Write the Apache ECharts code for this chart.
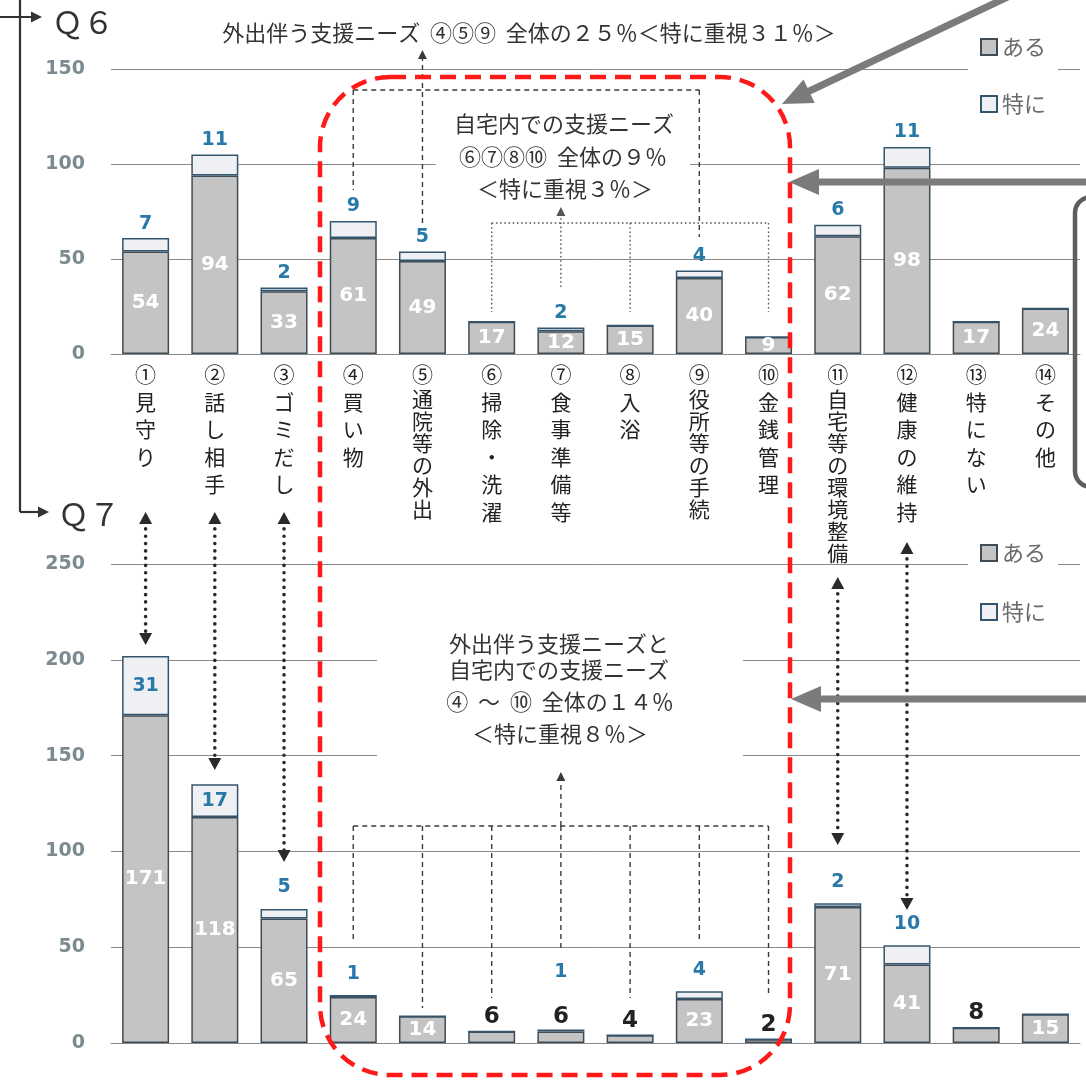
<!DOCTYPE html>
<html>
<head>
<meta charset="utf-8">
<script src="https://cdn.jsdelivr.net/npm/echarts@6/dist/echarts.min.js"></script>
<style>
html,body{margin:0;padding:0;background:#fff}
#chart{width:1086px;height:1081px}
</style>
</head>
<body>
<div id="chart"></div>
<script>
// Support needs by item: Q6 (top) and Q7 (bottom)
const categories = ['①見守り', '②話し相手', '③ゴミだし', '④買い物', '⑤通院等の外出', '⑥掃除・洗濯',
  '⑦食事準備等', '⑧入浴', '⑨役所等の手続', '⑩金銭管理', '⑪自宅等の環境整備', '⑫健康の維持', '⑬特にない', '⑭その他'];
const q6Aru    = [54, 94, 33, 61, 49, 17, 12, 15, 40, 9, 62, 98, 17, 24];
const q6Tokuni = [7, 11, 2, 9, 5, 0, 2, 0, 4, 0, 6, 11, 0, 0];
const q7Aru    = [171, 118, 65, 24, 14, 6, 6, 4, 23, 2, 71, 41, 8, 15];
const q7Tokuni = [31, 17, 5, 1, 0, 0, 1, 0, 4, 0, 2, 10, 0, 0];
const q6Ticks  = [0, 50, 100, 150];
const q7Ticks  = [0, 50, 100, 150, 200, 250];
const seriesNames = ['ある', '特に'];

const JP = '"Noto Sans CJK JP", "Noto Sans CJK SC", sans-serif';
const NUM = '"DejaVu Sans", Verdana, sans-serif';
const GRID_GRAY = '#8a8a8a';
const SMALL = 9;           // bars shorter than this get their value written above
const BAR_W = 47;

// vertical category label: circled number, then one character per line
function catLabel(s) {
  const chars = Array.from(s);
  const body = chars.slice(1);
  const key = body.length > 5 ? 'c' : 'n';
  return ['{h|' + chars[0] + '}'].concat(body.map(c => '{' + key + '|' + c + '}')).join('\n');
}

function yAxisOf(ticks, gridIndex) {
  return {
    type: 'value', gridIndex,
    min: ticks[0], max: ticks[ticks.length - 1], interval: ticks[1] - ticks[0],
    axisLine: { show: false }, axisTick: { show: false },
    splitLine: { lineStyle: { color: GRID_GRAY, width: 1 } },
    axisLabel: { margin: 26, color: '#7b8b90', fontFamily: NUM, fontWeight: 'bold', fontSize: 19 }
  };
}

function xAxisOf(gridIndex, withLabels) {
  return {
    type: 'category', gridIndex, data: categories,
    axisLine: { show: true, lineStyle: { color: GRID_GRAY, width: 1 } },
    axisTick: { show: false },
    axisLabel: withLabels ? {
      show: true, interval: 0, margin: 7, verticalAlign: 'top',
      formatter: catLabel,
      rich: {
        h: { fontFamily: JP, fontSize: 21, color: '#222', lineHeight: 27 },
        n: { fontFamily: JP, fontSize: 21, color: '#222', lineHeight: 27.5 },
        c: { fontFamily: JP, fontSize: 21, color: '#222', lineHeight: 22 }
      }
    } : { show: false }
  };
}

function aruSeries(values, idx, stack) {
  return {
    name: seriesNames[0], type: 'bar', xAxisIndex: idx, yAxisIndex: idx, stack, barWidth: BAR_W,
    itemStyle: { color: '#c4c4c4', borderColor: '#3e4c58', borderWidth: 1.5 },
    label: { show: true, position: 'inside', color: '#fff', fontFamily: NUM, fontWeight: 'bold', fontSize: 20 },
    data: values.map(v => v < SMALL
      ? { value: v, label: { position: 'top', distance: 3, color: '#222', fontSize: 23 } }
      : v)
  };
}

function tokuniSeries(values, base, idx, stack, near) {
  return {
    name: seriesNames[1], type: 'bar', xAxisIndex: idx, yAxisIndex: idx, stack, barWidth: BAR_W,
    itemStyle: { color: '#eef0f3', borderColor: '#34556e', borderWidth: 1.5 },
    label: {
      show: true, position: 'top', distance: near, color: '#2878a8',
      fontFamily: NUM, fontWeight: 'bold', fontSize: 19,
      formatter: p => (p.value > 0 ? String(p.value) : '')
    },
    data: values.map((v, i) => {
      if (v >= 15) return { value: v, label: { position: 'inside' } };
      return { value: v, label: { distance: base[i] < SMALL ? near + 36 : near } };
    })
  };
}

function legendOf(top, gap) {
  return {
    data: seriesNames, orient: 'vertical', left: 968, top, icon: 'rect',
    itemWidth: 16, itemHeight: 16, itemGap: gap, backgroundColor: '#fff',
    padding: [6, 12, 6, 12], selectedMode: false,
    textStyle: { fontFamily: JP, fontSize: 22, color: '#6a6a6a', lineHeight: 20 }
  };
}

const option = {
  backgroundColor: '#fff',
  animation: false,
  grid: [
    { left: 111, right: 6, top: 69, height: 285, outerBoundsMode: 'none' },
    { left: 111, right: 6, top: 564, height: 479, outerBoundsMode: 'none' }
  ],
  xAxis: [xAxisOf(0, true), xAxisOf(1, false)],
  yAxis: [yAxisOf(q6Ticks, 0), yAxisOf(q7Ticks, 1)],
  legend: [legendOf(30, 35), legendOf(536, 37)],
  series: [
    aruSeries(q6Aru, 0, 'q6'),
    tokuniSeries(q6Tokuni, q6Aru, 0, 'q6', 5),
    aruSeries(q7Aru, 1, 'q7'),
    tokuniSeries(q7Tokuni, q7Aru, 1, 'q7', 12)
  ]
};

const chart = echarts.init(document.getElementById('chart'), null, { renderer: 'canvas' });
chart.setOption(option);

// ---------- annotations (brackets, arrows, notes) ----------
const X = i => chart.convertToPixel({ xAxisIndex: 0 }, i);
const Z = 50;

function line(x1, y1, x2, y2, style) {
  return { type: 'line', z: Z, shape: { x1, y1, x2, y2 }, style: Object.assign({ fill: null }, style) };
}
function head(tx, ty, fx, fy, len, half, fill) {
  const dx = tx - fx, dy = ty - fy, L = Math.hypot(dx, dy);
  const ux = dx / L, uy = dy / L, bx = tx - ux * len, by = ty - uy * len;
  return {
    type: 'polygon', z: Z + 1,
    shape: { points: [[tx, ty], [bx - uy * half, by + ux * half], [bx + uy * half, by - ux * half]] },
    style: { fill, stroke: null }
  };
}
function arrow(x1, y1, x2, y2, style, len, half) {
  const dx = x2 - x1, dy = y2 - y1, L = Math.hypot(dx, dy);
  const bx = x2 - dx / L * len * 0.8, by = y2 - dy / L * len * 0.8;
  return [line(x1, y1, bx, by, style), head(x2, y2, x1, y1, len, half, style.stroke)];
}
function doubleArrow(x, y1, y2, style, len, half) {
  return [
    line(x, y1 + len * 0.8, x, y2 - len * 0.8, style),
    head(x, y1, x, y2, len, half, style.stroke),
    head(x, y2, x, y1, len, half, style.stroke)
  ];
}
function text(str, x, y, size, align, color) {
  return {
    type: 'text', z: Z + 2, x, y,
    style: { text: str, fontFamily: JP, fontSize: size, fill: color || '#333',
      align: align || 'center', verticalAlign: 'middle' }
  };
}
function whiteBox(x, y, w, h) {
  return { type: 'rect', z: 5, shape: { x, y, width: w, height: h }, style: { fill: '#fff', stroke: null } };
}

const ink = '#3a3a3a';
const dash = { stroke: ink, lineWidth: 1.4, lineDash: [5, 4] };
const fineDot = { stroke: '#555', lineWidth: 1.4, lineDash: [1.6, 2.6] };
const bigDot = { stroke: '#2a2a2a', lineWidth: 3.6, lineDash: [0.1, 7.2], lineCap: 'round' };
const solid = { stroke: '#333', lineWidth: 2.2 };
const grayArrow = { stroke: '#7b7b7b', lineWidth: 7 };

const g = [];

// Q6 / Q7 markers
g.push(line(20, 0, 20, 512, solid));
g.push(...arrow(0, 17, 42, 17, solid, 11, 5.5));
g.push(...arrow(20, 512, 49, 512, solid, 11, 5.5));
g.push(text('Ｑ６', 52, 22, 31, 'left'));
g.push(text('Ｑ７', 58, 514, 31, 'left'));

// outing-related needs (④⑤⑨)
g.push(text('外出伴う支援ニーズ  ④⑤⑨  全体の２５％＜特に重視３１％＞', 529, 33, 22));
g.push(line(X(3), 90, X(8), 90, dash));
g.push(line(X(3), 90, X(3), 190, dash));
g.push(line(X(8), 90, X(8), 237, dash));
g.push(...arrow(X(4), 223, X(4), 50, dash, 9, 4.5));

// in-home needs (⑥⑦⑧⑩)
g.push(whiteBox(436, 106, 254, 100));
g.push(text('自宅内での支援ニーズ', 564, 124, 22));
g.push(text('⑥⑦⑧⑩  全体の９％', 563, 157, 22));
g.push(text('＜特に重視３％＞', 565, 189, 22));
g.push(line(X(5), 223, X(9), 223, fineDot));
[5, 7, 9].forEach(i => g.push(line(X(i), 223, X(i), 312, fineDot)));
g.push(...arrow(X(6), 287, X(6), 207, fineDot, 9, 4.5));

// Q7: combined needs (④〜⑩)
g.push(whiteBox(377, 628, 366, 142));
g.push(text('外出伴う支援ニーズと', 559, 644, 22));
g.push(text('自宅内での支援ニーズ', 559, 670, 22));
g.push(text('④  ～  ⑩  全体の１４％', 560, 702, 22));
g.push(text('＜特に重視８％＞', 560, 734, 22));
g.push(line(X(3), 826, X(9), 826, dash));
[[3, 942], [4, 1008], [5, 998], [7, 998], [8, 942], [9, 997]].forEach(([i, yEnd]) =>
  g.push(line(X(i), 826, X(i), yEnd, dash)));
g.push(line(X(6), 826, X(6), 948, dash));
g.push(...arrow(X(6), 826, X(6), 772, dash, 9, 4.5));

// links between Q6 and Q7 items
[[0, 512, 645], [1, 512, 770], [2, 512, 862], [10, 577, 845], [11, 542, 910]].forEach(([i, a, b]) =>
  g.push(...doubleArrow(X(i), a, b, bigDot, 12, 6.5)));

// highlighted range ④〜⑩
g.push({
  type: 'rect', z: Z, shape: { x: 320, y: 77, width: 470, height: 998, r: 70 },
  style: { fill: null, stroke: '#ff1a1a', lineWidth: 4.5, lineDash: [16, 9] }
});

// pointers toward the highlighted range
g.push(...arrow(1014, -6, 782, 104, grayArrow, 30, 13));
g.push(...arrow(1092, 182, 789, 182, grayArrow, 30, 13));
g.push(...arrow(1092, 699, 791, 699, grayArrow, 30, 13));
g.push({
  type: 'rect', z: Z, shape: { x: 1075, y: 197, width: 40, height: 290, r: 16 },
  style: { fill: null, stroke: '#5e5e5e', lineWidth: 4.5 }
});

chart.setOption({ graphic: { elements: g } });
</script>
</body>
</html>
